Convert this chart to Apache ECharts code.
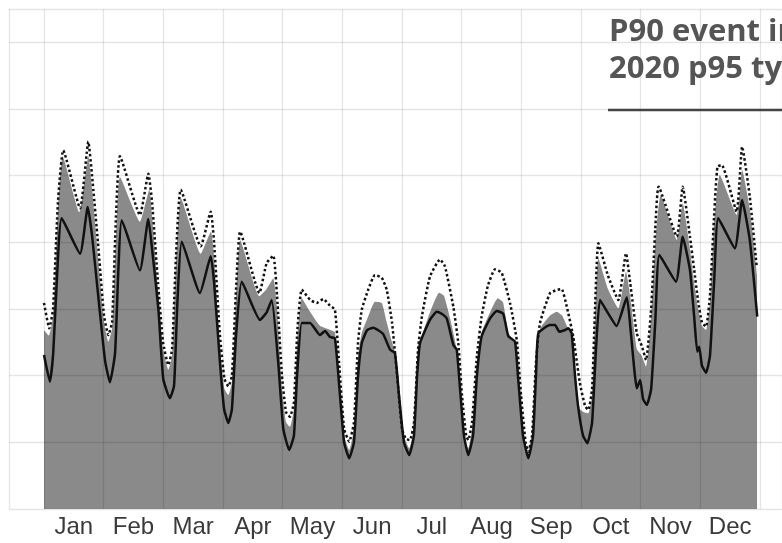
<!DOCTYPE html>
<html><head><meta charset="utf-8">
<script src="https://cdn.jsdelivr.net/npm/echarts@6/dist/echarts.min.js"></script>
<style>html,body{margin:0;padding:0;background:#fff}#c{width:782px;height:543px}</style>
</head><body><div id="c"></div>
<script>
// Month tick labels (centred in each month band)
const months = ['Jan','Feb','Mar','Apr','May','Jun','Jul','Aug','Sep','Oct','Nov','Dec'];
const titleLines = ['P90 event in', '2020 p95 ty'];

// Gray area (day of year, value)
const areaDays = [0,2.5,4.6,7.1,9.5,18,22.6,24.5,27.5,30.6,32.8,34.7,36.7,38.7,48.9,53.7,55.1,58.1,60.7,63.4,65.3,67.3,69.8,79.9,85.1,86.7,89.7,92,94,95.8,97.9,100,109.8,113.5,116.9,118.8,121.3,123.4,125.4,127.4,129.2,131.4,135.6,140.7,145.8,148.3,150.4,153,155.6,158,160.1,162,165.4,168.7,172.2,174.7,177.4,178.9,181,183.5,186.2,188.6,190.7,192.7,196.8,201.4,203.9,207,210,212.1,214.6,216.3,218.2,220.7,223.1,227.4,231.3,234,236.7,240.1,242.1,244.7,246.9,248.8,250.8,252.8,257.9,261.4,264.2,266.5,269,271.3,273.2,275.2,277.5,279.4,280.9,282.6,287.5,292.8,296.7,298.8,302.2,304.7,306.9,309.5,311.6,314.4,322.6,325.6,329.3,331.4,333.5,335.4,337.5,339.5,341.6,344.5,353.1,355.9,359.8,363.5];
const areaVals = [2.68,2.6,2.9,4.5,5.29,4.45,5.29,4.8,3.8,2.8,2.51,2.7,4.1,4.98,4.31,4.79,4.4,3.3,2.4,2.09,2.3,3.7,4.66,3.83,4.16,3.8,2.4,1.8,1.71,1.9,3.2,4.03,3.19,3.3,3.46,3.0,1.8,1.3,1.23,1.5,2.6,3.16,2.96,2.75,2.69,2.65,2.0,1.1,0.885,1.2,2.3,2.64,2.9,3.11,3.09,2.8,2.5,2.36,1.8,1.1,0.91,1.2,2.3,2.6,2.95,3.245,3.2,2.86,2.45,1.8,1.0,0.91,1.2,2.2,2.65,2.95,3.16,3.1,2.635,2.5,1.8,0.95,0.8,1.05,2.1,2.7,2.9,2.96,2.9,2.75,2.6,1.8,1.5,1.45,1.435,1.7,2.9,3.76,3.3,3.01,3.56,3.2,2.4,2.3,2.135,2.9,4.0,4.71,4.035,4.585,3.9,3.4,3.0,2.75,2.685,3.1,4.3,5.01,4.41,5.085,4.5,3.5];

// Solid black line
const solidDays = [0,3,4.7,6.5,9,18.4,22.3,24.5,27.7,31.1,33.6,36.2,37.9,39.6,48.9,53.2,55.1,58.3,60.8,64.2,66.3,68,70.2,79.5,85,86.7,89.7,91.8,94,95.8,97.9,100.8,110.1,113.5,116.1,119.4,122,125,127.4,129,131.4,135.6,140.7,143.3,145.8,148.3,150.9,153,155.6,158,160.1,162,164.7,167.9,170.4,173,176.4,178.9,181,183.5,186.2,188.6,190.2,191.7,196.8,200.2,202.7,205.3,208.7,210.4,212.1,214.1,216.3,218.7,220.7,223.1,227.4,230.8,234.1,236.7,240.1,241.6,244.2,246.9,249.3,250.8,252,257.9,260.5,262.7,265.6,267.3,269,270.7,272.4,274.8,277,279.4,281.4,283.4,287.6,291.9,297.1,299.3,302.2,303.9,305.4,307.3,309.5,311.6,313.7,322.2,325.6,329.3,331.4,333,334,335.4,337.5,339.5,341.6,343.7,352.2,355.9,359.8,363.6];
const solidVals = [2.31,1.91,2.34,3.4,4.36,3.83,4.53,4.1,3.18,2.23,1.9,2.33,3.58,4.33,3.58,4.35,3.9,3.0,1.95,1.66,1.85,3.1,4.01,3.24,3.79,3.4,2.2,1.5,1.29,1.5,2.6,3.41,2.835,2.95,3.135,2.2,1.2,0.885,1.1,2.0,2.79,2.79,2.61,2.67,2.58,2.56,1.7,1.0,0.76,1.0,2.0,2.49,2.68,2.72,2.68,2.62,2.39,2.34,1.7,1.0,0.81,1.1,2.0,2.49,2.84,2.96,2.93,2.86,2.46,2.39,1.8,1.1,0.81,1.1,2.0,2.59,2.86,2.97,2.93,2.59,2.51,2.0,1.1,0.76,1.1,2.0,2.635,2.76,2.76,2.66,2.685,2.71,2.635,2.0,1.51,1.1,0.985,1.3,2.4,3.135,2.935,2.745,3.175,2.6,1.81,1.935,1.65,1.56,1.8,2.8,3.81,3.41,4.085,3.585,2.9,2.36,2.435,2.15,2.045,2.3,3.4,4.36,3.91,4.635,4.035,2.885];

// Dotted black line
const dottedDays = [0,2.7,4.6,7.1,9.8,18.4,22.6,24.5,27.5,30.6,32.8,34.7,36.7,38.7,48.9,53.2,55.1,58.1,60.7,63.4,65.3,67.3,69.7,79.9,85,86.7,89.7,92,94,95.8,97.9,100,109.8,113.5,116.9,118.8,121.3,123.4,125.4,127.4,129.2,131.4,135.6,139,142.4,145.8,148.3,150.4,153,155.6,158,160.1,162,165.4,168.7,172.2,174.7,177.4,180,182.5,184.5,186.6,188.6,190.7,192.7,196.8,201.9,204.4,208.7,211.2,213.1,215.2,216.3,218.2,220.7,223.1,226.3,229.9,233.3,237.6,241,243.2,245.5,246.9,248.8,250.8,252.8,257.9,261.4,263.9,266.5,269.8,273.2,275.8,277.5,279.4,280.9,282.6,287.5,292.8,296.7,298.8,302.2,304.7,306.9,309.5,311.6,313.3,322.6,325.6,329.3,331.4,333.5,335.4,337.5,339.5,341.6,343.3,345.5,353.1,355.9,359.8,363.3];
const dottedVals = [3.09,2.71,3.0,4.6,5.38,4.51,5.51,5.0,4.0,2.9,2.61,2.8,4.4,5.29,4.41,5.03,4.6,3.4,2.5,2.16,2.4,3.8,4.79,3.94,4.46,4.0,2.6,1.95,1.84,2.0,3.3,4.16,3.24,3.69,3.8,3.2,2.0,1.45,1.385,1.6,2.7,3.29,3.14,3.09,3.15,3.05,2.99,2.2,1.2,1.01,1.3,2.5,2.99,3.3,3.51,3.47,3.29,2.8,2.0,1.2,1.05,1.035,1.3,2.4,2.9,3.49,3.745,3.64,3.03,2.49,1.7,1.1,1.035,1.3,2.3,2.89,3.35,3.595,3.545,3.085,2.535,1.7,1.0,0.86,1.1,2.2,2.785,3.235,3.285,3.3,3.035,2.585,1.885,1.55,1.485,1.8,3.0,3.985,3.5,3.135,3.835,3.4,2.635,2.45,2.235,3.0,4.2,4.835,4.085,4.835,4.085,3.6,3.11,2.8,2.735,3.2,4.4,5.135,5.16,4.46,5.435,4.685,3.635];

const zip = (a, b) => a.map((d, i) => [d, b[i]]);
const gridLine = { lineStyle: { color: 'rgba(0,0,0,0.1)', width: 1.3 } };

const chart = echarts.init(document.getElementById('c'), null, { renderer: 'canvas' });
chart.setOption({
  animation: false,
  grid: [
    { left: 9, right: 0, top: 9, bottom: 34 },
    { left: 44, right: 22, top: 9, bottom: 34 }
  ],
  xAxis: [
    { gridIndex: 0, type: 'value', min: 0, max: 1, interval: 1, z: 3,
      axisLine: { show: false }, axisTick: { show: false }, axisLabel: { show: false },
      splitLine: Object.assign({ show: true }, gridLine) },
    { gridIndex: 1, type: 'value', min: 0, max: 365, interval: 365 / 12, z: 3,
      axisLine: { show: false }, axisTick: { show: false }, axisLabel: { show: false },
      splitLine: Object.assign({ show: true }, gridLine) },
    { gridIndex: 1, type: 'category', data: months, boundaryGap: true, position: 'bottom',
      axisLine: { show: false }, axisTick: { show: false }, splitLine: { show: false },
      axisLabel: { show: true, interval: 0, margin: 6, color: '#3a3a3a',
        fontFamily: '"Liberation Sans", Arial, sans-serif', fontSize: 24 } }
  ],
  yAxis: [
    { gridIndex: 0, type: 'value', min: 0, max: 7.5, interval: 1, z: 3,
      axisLine: { show: false }, axisTick: { show: false }, axisLabel: { show: false },
      splitLine: Object.assign({ show: true }, gridLine) },
    { gridIndex: 1, type: 'value', min: 0, max: 7.5, interval: 1,
      axisLine: { show: false }, axisTick: { show: false }, axisLabel: { show: false },
      splitLine: { show: false } }
  ],
  series: [
    { type: 'line', xAxisIndex: 1, yAxisIndex: 1, data: zip(areaDays, areaVals),
      showSymbol: false, symbol: 'none', z: 1, smooth: 0.15,
      lineStyle: { width: 0, color: '#8a8a8a' },
      areaStyle: { color: '#8a8a8a', opacity: 1 } },
    { type: 'line', xAxisIndex: 1, yAxisIndex: 1, data: zip(dottedDays, dottedVals),
      showSymbol: false, symbol: 'none', z: 5, smooth: 0.15,
      lineStyle: { width: 2.5, color: '#111', type: [2.5, 2.5] } },
    { type: 'line', xAxisIndex: 1, yAxisIndex: 1, data: zip(solidDays, solidVals),
      showSymbol: false, symbol: 'none', z: 6, smooth: 0.15,
      lineStyle: { width: 2.5, color: '#111' } }
  ],
  graphic: [
    { type: 'text', left: 609, top: 14, z: 10,
      style: { text: titleLines.join('\n'), fill: '#555', lineHeight: 37,
        font: 'bold 31px "Open Sans", "Noto Sans", sans-serif' } },
    { type: 'line', z: 10, shape: { x1: 608, y1: 110, x2: 782, y2: 110 },
      style: { stroke: '#444', lineWidth: 2.5 } }
  ]
});
</script></body></html>
